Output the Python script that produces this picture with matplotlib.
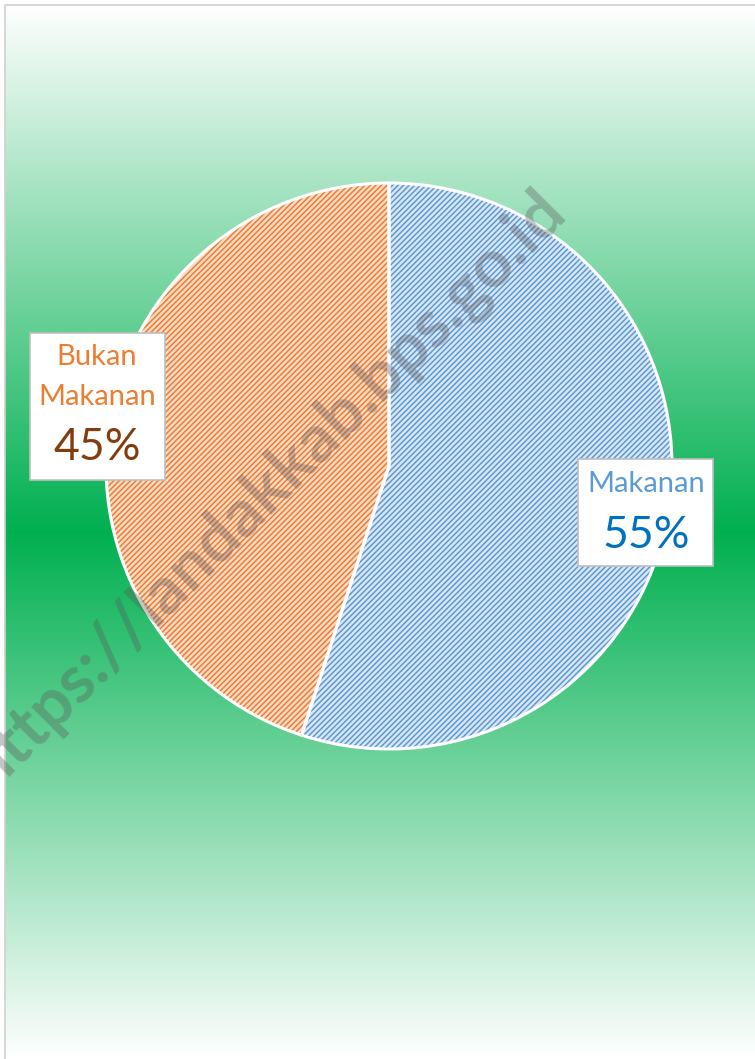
import numpy as np
import matplotlib
matplotlib.use("Agg")
import matplotlib.pyplot as plt
from matplotlib.patches import Rectangle

# Data
categories = ["Makanan", "Bukan Makanan"]
shares = [55, 45]
pct_labels = ["55%", "45%"]
name_labels = ["Makanan", "Bukan\nMakanan"]

W, H = 755, 1059
fig = plt.figure(figsize=(W / 100, H / 100), dpi=100)
ax = fig.add_axes([0, 0, 1, 1])
ax.set_xlim(0, W)
ax.set_ylim(0, H)
ax.axis("off")

# Background gradient: white -> green -> white
t = np.linspace(0, 1, 600)
top = np.array([255, 255, 255]) / 255
mid = np.array([0, 176, 80]) / 255
frac = 1 - np.abs(t - 0.5) * 2
grad = top[None, :] * (1 - frac[:, None]) + mid[None, :] * frac[:, None]
img = np.repeat(grad[:, None, :], 2, axis=1)
ax.imshow(img, extent=(5, W, 0, H - 5), aspect="auto", origin="upper", zorder=0)
ax.add_patch(Rectangle((4.5, -5), W, H + 0.5, fill=False, edgecolor="#d0d0d0", lw=1.2, zorder=1))

# Pie
cx, cy, r = 389, H - 466, 283
fill_colors = ["#dae6f5", "#fcdcc6"]
hatch_colors = ["#5b9bd5", "#ed7d31"]
plt.rcParams["hatch.linewidth"] = 1.1

w_fill, _ = ax.pie(shares, startangle=90, counterclock=False, center=(cx, cy), radius=r,
                   colors=fill_colors, wedgeprops=dict(linewidth=0), frame=True)
for w in w_fill:
    w.set_zorder(2)
w_hatch, _ = ax.pie(shares, startangle=90, counterclock=False, center=(cx, cy), radius=r,
                    wedgeprops=dict(linewidth=0, facecolor="none"), frame=True)
for w, hc in zip(w_hatch, hatch_colors):
    w.set_edgecolor(hc)
    w.set_hatch("//////")
    w.set_linewidth(0)
    w.set_zorder(3)
w_edge, _ = ax.pie(shares, startangle=90, counterclock=False, center=(cx, cy), radius=r,
                   wedgeprops=dict(linewidth=2.2, edgecolor="white", facecolor="none"), frame=True)
for w in w_edge:
    w.set_zorder(4)

ax.set_xlim(0, W)
ax.set_ylim(0, H)
ax.set_aspect("auto")
ax.axis("off")

# Watermark
ax.text(266, H - 490, "https://landakkab.bps.go.id", rotation=45, rotation_mode="anchor",
        ha="center", va="center", fontsize=48, fontweight="bold", family="Lato",
        color=(0.35, 0.35, 0.35), alpha=0.35, zorder=5)

# Label boxes
def label_box(x0, y0, x1, y1):
    ax.add_patch(Rectangle((x0, H - y1), x1 - x0, y1 - y0, facecolor="white",
                           edgecolor="#bfbfbf", lw=1.2, zorder=6))

# Makanan box
label_box(578, 459, 713, 566)
ax.text(646, H - 484, name_labels[0], ha="center", va="center", fontsize=21,
        family="Lato", color="#5b9bd5", zorder=7)
ax.text(646, H - 535, pct_labels[0], ha="center", va="center", fontsize=32,
        family="Lato", color="#0070c0", zorder=7)

# Bukan Makanan box
label_box(30, 333, 165, 480)
ax.text(97, H - 357, "Bukan", ha="center", va="center", fontsize=21,
        family="Lato", color="#ed7d31", zorder=7)
ax.text(97, H - 397, "Makanan", ha="center", va="center", fontsize=21,
        family="Lato", color="#ed7d31", zorder=7)
ax.text(97, H - 448, pct_labels[1], ha="center", va="center", fontsize=32,
        family="Lato", color="#843c0c", zorder=7)

fig.savefig("out.png", dpi=100)
